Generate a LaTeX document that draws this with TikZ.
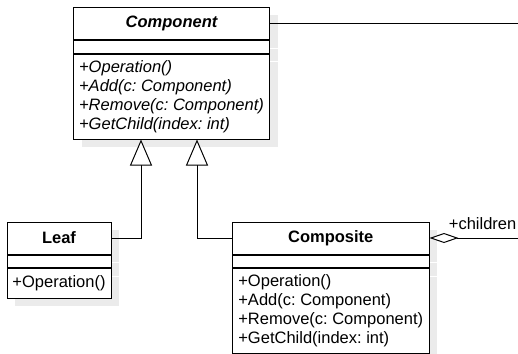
\documentclass[tikz,border=0pt]{standalone}
\usepackage{fontspec}
\setmainfont{Liberation Sans}
\usetikzlibrary{positioning,shadows,arrows.meta}
\newcommand\umlfont{\fontsize{16.5}{19}\selectfont}
\frenchspacing

\begin{document}
\begin{tikzpicture}[x=1pt, y=-1pt, font=\umlfont,
    box/.style={draw, fill=white, line width=1pt, inner sep=0pt,
      drop shadow={shadow xshift=8pt, shadow yshift=-8pt, fill=black!8, opacity=1}},
    head/.style={box, minimum height=32pt, font=\umlfont\bfseries},
    attr/.style={box, minimum height=12.5pt},
    ops/.style={box, align=left},
    extends/.style={line width=1pt, -{Triangle[length=26pt, width=22pt, fill=white]}},
    link/.style={line width=1pt}]
  \useasboundingbox (0,0) rectangle (518,353);

  % abstract class
  \node[head, minimum width=196pt] (comp) at (171.5,23.5) {\itshape Component};
  \node[attr, minimum width=196pt, below=0pt of comp] (comp-attr) {};
  \node[ops, minimum width=196pt, minimum height=85pt, font=\umlfont\itshape,
    below=0pt of comp-attr] (comp-ops)
    {+Operation()\\+Add(c: Component)\\+Remove(c: Component)\\+GetChild(index: int)};

  % leaf
  \node[head, minimum width=104pt] (leaf) at (59,238) {Leaf};
  \node[attr, minimum width=104pt, below=0pt of leaf] (leaf-attr) {};
  \node[ops, minimum width=104pt, minimum height=29.5pt, below=0pt of leaf-attr] (leaf-ops)
    {+Operation()};

  % composite
  \node[head, minimum width=196.5pt] (composite) at (330.75,238) {Composite};
  \node[attr, minimum width=196.5pt, below=0pt of composite] (composite-attr) {};
  \node[ops, minimum width=196.5pt, minimum height=84.5pt, below=0pt of composite-attr] (composite-ops)
    {+Operation()\\+Add(c: Component)\\+Remove(c: Component)\\+GetChild(index: int)};

  % generalisations
  \draw[extends] (leaf.east) -| ([xshift=-30.5pt]comp-ops.south);
  \draw[extends] (composite.west) -| ([xshift=25.5pt]comp-ops.south);

  % aggregation, cut at the right edge
  \coordinate (edge-top) at (518,23.5);
  \coordinate (edge-bot) at (518,238);
  \draw[link] (comp.east) -- (edge-top);
  \draw[link, {Diamond[length=29pt, width=10pt, fill=white]}-] (composite.east) --
    node[pos=0.6, above=8pt, inner sep=0pt] (children) {+children} (edge-bot);
\end{tikzpicture}
\end{document}
